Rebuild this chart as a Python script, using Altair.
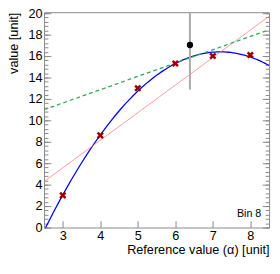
import altair as alt
import pandas as pd

# data points (red crosses)
pts_x = [3, 4, 5, 6, 7, 8]
pts_y = [3.0, 8.6, 13.0, 15.3, 16.0, 16.1]

# reference measurement (black point with error bar)
ref_x = [6.39]
ref_y = [17.03]
ref_err = [4.15]

# green dashed line end points
green_x = [2.5, 8.5]
green_y = [11.0, 18.45]

# annotation
label_text = ["Bin 8"]

# axis ticks
x_ticks = [3, 4, 5, 6, 7, 8]
y_major = [0, 2, 4, 6, 8, 10, 12, 14, 16, 18, 20]
y_minor = [round(i * 0.4, 1) for i in range(0, 51)]

x_domain = [2.5, 8.5]
y_domain = [0, 20.09]

FONT = "Liberation Sans"
GRAY = "#888888"

pts = pd.DataFrame({"x": pts_x, "y": pts_y})
ref = pd.DataFrame({"x": ref_x, "y": ref_y, "lo": [y - e for y, e in zip(ref_y, ref_err)],
                    "hi": [y + e for y, e in zip(ref_y, ref_err)]})
green = pd.DataFrame({"x": green_x, "y": green_y})
lab = pd.DataFrame({"t": label_text})

xs = alt.Scale(domain=x_domain, nice=False, zero=False)
ys = alt.Scale(domain=y_domain, nice=False, zero=False)

x_axis = alt.Axis(orient="bottom", values=x_ticks, tickSize=7, offset=-7, domain=False,
                  tickColor=GRAY, labelPadding=2, labelFontSize=13, labelFont=FONT,
                  labelColor="black", grid=False,
                  title="Reference value (\u03b1) [unit]", titleFont=FONT, titleFontSize=13,
                  titleFontWeight="normal", titleColor="black",
                  titleAlign="right", titleBaseline="top", titleX=231, titleY=24)
y_left_major = alt.Axis(orient="left", values=y_major, tickSize=7, offset=-7, domain=False,
                        tickColor=GRAY, labelPadding=2, labelFontSize=13, labelFont=FONT,
                        labelColor="black", grid=False,
                        title="value [unit]", titleFont=FONT, titleFontSize=13,
                        titleFontWeight="normal", titleColor="black",
                        titleAlign="right", titleBaseline="bottom",
                        titleX=-31, titleY=0)
y_left_minor = alt.Axis(orient="left", values=y_minor, tickSize=4, offset=-4, domain=False,
                        tickColor=GRAY, labels=False, grid=False, title="")
y_right_major = alt.Axis(orient="right", values=y_major, tickSize=7, offset=-7, domain=False,
                         tickColor=GRAY, labels=False, grid=False, title="")
y_right_minor = alt.Axis(orient="right", values=y_minor, tickSize=4, offset=-4, domain=False,
                         tickColor=GRAY, labels=False, grid=False, title="")

X = alt.X("x:Q", scale=xs, axis=x_axis)

fit_line = alt.Chart(pts).transform_regression(
    "x", "y", method="poly", order=2, extent=x_domain
).mark_line(color="#0000ff", strokeWidth=1.3, clip=True).encode(
    x=X,
    y=alt.Y("y:Q", scale=ys, axis=y_left_major),
)

lin_line = alt.Chart(pts).transform_regression(
    "x", "y", method="linear", extent=x_domain
).mark_line(color="#ff8080", strokeWidth=1, opacity=0.8, clip=True).encode(
    x=X,
    y=alt.Y("y:Q", scale=ys, axis=y_left_minor),
)

green_line = alt.Chart(green).mark_line(color="#33aa55", strokeWidth=1.3,
                                         strokeDash=[4, 3], clip=True).encode(
    x=X,
    y=alt.Y("y:Q", scale=ys, axis=y_right_major),
)

err_bar = alt.Chart(ref).mark_rule(color="#aaaaaa", strokeWidth=2, clip=True).encode(
    x=X,
    y=alt.Y("lo:Q", scale=ys, axis=y_right_minor),
    y2="hi:Q",
)

ref_pt = alt.Chart(ref).mark_point(shape="circle", filled=True, color="black",
                                   size=42, opacity=1).encode(
    x=X,
    y=alt.Y("y:Q", scale=ys, axis=None),
)

crosses = alt.Chart(pts).mark_point(shape="M-1,-1L1,1M-1,1L1,-1", filled=False,
                                    color="#990000", strokeWidth=2.5, size=30,
                                    opacity=1).encode(
    x=X,
    y=alt.Y("y:Q", scale=ys, axis=None),
)

txt = alt.Chart(lab).mark_text(align="right", baseline="alphabetic", fontSize=11,
                               font=FONT, color="black").encode(
    x=alt.value(223), y=alt.value(210), text="t:N"
)

chart = alt.layer(fit_line, lin_line, green_line, err_bar, ref_pt, crosses, txt).resolve_axis(
    y="independent"
).properties(
    width=231, height=221,
    autosize=alt.AutoSizeParams(type="none"),
    padding={"left": 37, "top": 1, "right": 3, "bottom": 30},
).configure_view(stroke=GRAY, strokeWidth=1)

chart.save("out.html", embed_options={"renderer": "svg", "actions": False})
